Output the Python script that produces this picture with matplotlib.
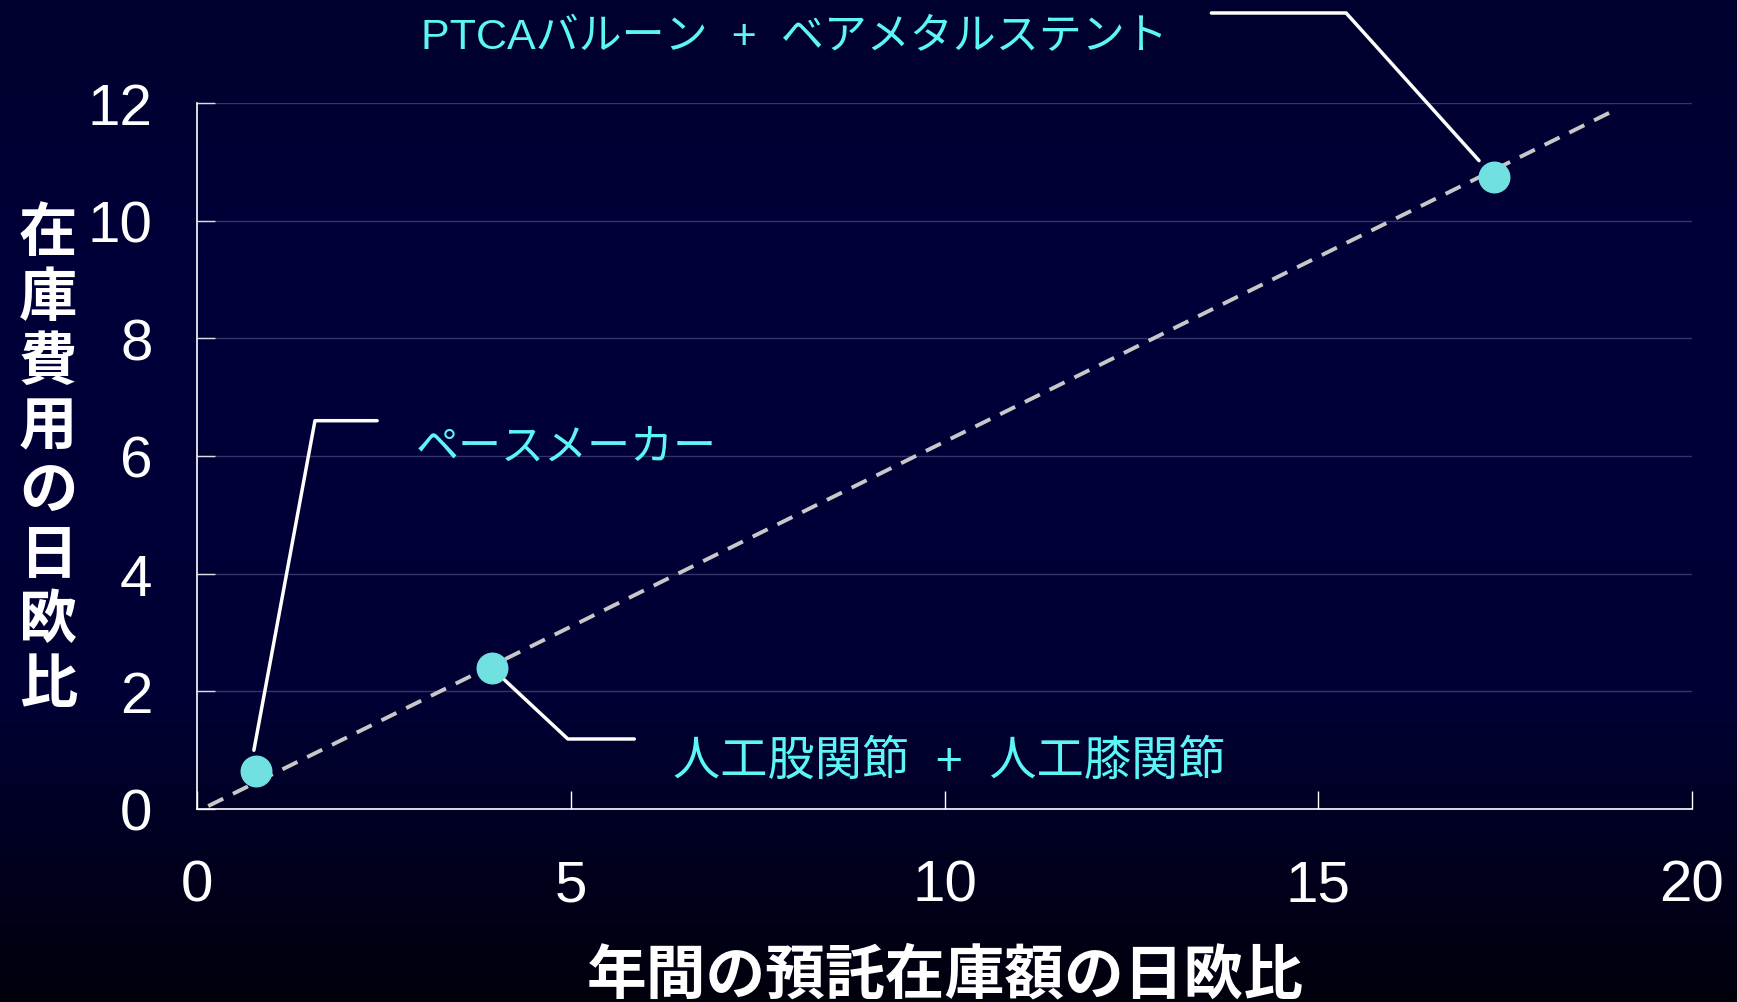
import numpy as np
import matplotlib
matplotlib.use('Agg')
import matplotlib.pyplot as plt
from matplotlib.colors import LinearSegmentedColormap

# data
inventory_ratio = [0.79, 3.94, 17.35]     # 年間の預託在庫額の日欧比
cost_ratio = [0.65, 2.40, 10.74]          # 在庫費用の日欧比
item_names = ['ペースメーカー', '人工股関節  +  人工膝関節', 'PTCAバルーン  +  ベアメタルステント']
trend_x = [0.15, 19.0]
trend_y = [0.05, 11.9]
x_ticks = [0, 5, 10, 15, 20]
y_ticks = [0, 2, 4, 6, 8, 10, 12]

xlabel = '年間の預託在庫額の日欧比'
ylabel = '在庫費用の日欧比'

plt.rcParams['font.family'] = ['Liberation Sans', 'Noto Sans CJK JP', 'DejaVu Sans']

W, H = 1737, 1003
fig = plt.figure(figsize=(W / 100, H / 100), dpi=100)

# background gradient
bg = fig.add_axes([0, 0, 1, 1], zorder=-10)
cmap = LinearSegmentedColormap.from_list('bg', [(0.0, '#00000c'), (0.3, '#000034'),
                                               (0.7, '#00003a'), (1.0, '#00002e')])
bg.imshow(np.linspace(0, 1, 256).reshape(-1, 1), aspect='auto', cmap=cmap,
          extent=[0, 1, 0, 1], origin='lower')
bg.axis('off')

ax = fig.add_axes([197 / W, (H - 810) / H, 1495 / W, 706 / H])
ax.set_facecolor('none')
ax.set_xlim(0, 20)
ax.set_ylim(0, 12)
ax.set_xticks(x_ticks)
ax.set_yticks(y_ticks)
ax.yaxis.grid(True, color='#34346a', lw=1.0)
ax.set_axisbelow(True)
for s in ['top', 'right']:
    ax.spines[s].set_visible(False)
for s in ['left', 'bottom']:
    ax.spines[s].set_color('white')
    ax.spines[s].set_linewidth(1.2)
ax.tick_params(axis='x', direction='in', length=13, width=1, color='white',
               labelcolor='white', labelsize=42, pad=36)
ax.tick_params(axis='y', direction='in', length=13, width=1, color='#dddddd',
               labelcolor='white', labelsize=42, pad=32)
for lab in ax.get_xticklabels() + ax.get_yticklabels():
    lab.set_family('Liberation Sans')

ax.plot(trend_x, trend_y, color='#c8c8c8', lw=2.8, ls=(0, (4.3, 2.8)), zorder=2)
ax.plot(inventory_ratio, cost_ratio, 'o', color='#70e0e0', markersize=22, zorder=3)

txt_color = '#5cf6f6'
lead = dict(arrowstyle='-', color='white', lw=2.5, shrinkA=0)

# ペースメーカー
ax.annotate('', xy=(inventory_ratio[0] - 0.08, cost_ratio[0]), xytext=(2.41, 6.6),
            arrowprops=dict(lead, shrinkB=15, connectionstyle='angle,angleA=0,angleB=79.5,rad=0'),
            annotation_clip=False)
ax.text(2.92, 6.13, item_names[0], color=txt_color, fontsize=31, ha='left', va='center')

# 人工股関節 + 人工膝関節
ax.annotate('', xy=(inventory_ratio[1], cost_ratio[1]), xytext=(5.85, 1.19),
            arrowprops=dict(lead, shrinkB=13, connectionstyle='angle,angleA=0,angleB=-43,rad=0'),
            annotation_clip=False)
ax.text(6.37, 0.80, item_names[1], color=txt_color, fontsize=34, ha='left', va='center')

# PTCAバルーン + ベアメタルステント
ax.annotate('', xy=(inventory_ratio[2], cost_ratio[2]), xytext=(13.57, 13.53),
            arrowprops=dict(lead, shrinkB=16, connectionstyle='angle,angleA=0,angleB=132,rad=0'),
            annotation_clip=False)
ax.text(3.0, 13.12, item_names[2], color=txt_color, fontsize=31, ha='left', va='center',
        clip_on=False)

# axis titles
fig.text(945 / W, 1 - 977 / H, xlabel, color='white', fontsize=43, fontweight='bold',
         ha='center', va='center')
for i, ch in enumerate(ylabel):
    fig.text(48 / W, 1 - (236 + i * 64.5) / H, ch, color='white', fontsize=42,
             fontweight='bold', ha='center', va='center')

fig.savefig('out.png', dpi=100)
